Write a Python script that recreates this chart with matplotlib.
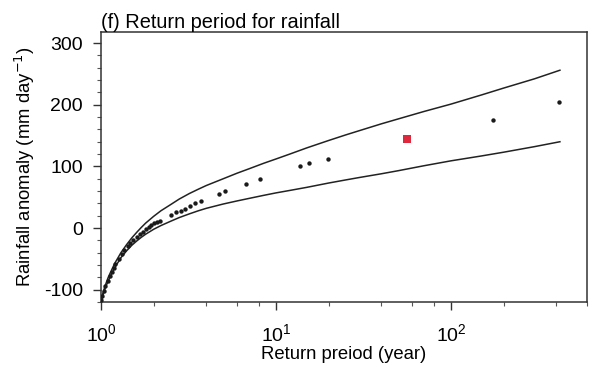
import numpy as np
import matplotlib.pyplot as plt
from matplotlib.ticker import LogLocator, MultipleLocator

plt.rcParams['font.family'] = ['Liberation Sans', 'DejaVu Sans']
plt.rcParams['axes.unicode_minus'] = False

# observed events: return period (year) and rainfall anomaly (mm/day)
obs_period = [1.003, 1.02, 1.04, 1.06, 1.09, 1.12, 1.15, 1.18, 1.21, 1.26,
              1.31, 1.36, 1.42, 1.47, 1.53, 1.60, 1.66, 1.73, 1.80, 1.87,
              1.94, 2.02, 2.10, 2.16, 2.52, 2.69, 2.85, 3.03, 3.23, 3.45,
              3.74, 4.75, 5.1, 6.7, 8.1, 13.8, 15.5, 19.8, 175, 413]
obs_anom = [-117, -110, -102, -94, -86, -78, -71, -65, -58, -50,
            -42, -36, -29, -24, -19, -15, -10, -6, -2, 2,
            5, 8, 10, 11, 21, 26, 28, 31, 35, 40,
            44, 56, 60, 72, 80, 100, 105, 112, 176, 204]

# highlighted event
event_period = [55.9]
event_anom = [144.5]

# confidence bounds of the fitted return level
band_period = [1.01, 1.03, 1.05, 1.08, 1.1, 1.15, 1.2, 1.3, 1.4, 1.5, 1.6,
               1.7, 1.8, 2.0, 2.2, 2.5, 2.8, 3.2, 3.6, 4, 5, 6, 7, 8.5, 10,
               12, 15, 20, 25, 30, 40, 50, 70, 100, 150, 200, 300, 420]
band_upper = [-112, -104, -96, -86, -80, -68, -57, -40, -27, -16, -7,
              1, 8, 19, 28, 38, 47, 56, 63, 69, 80, 89, 96, 105, 112,
              120, 130, 142, 151, 158, 169, 177, 189, 201, 216, 227, 242, 256]
band_lower = [-116, -108, -100, -91, -86, -74, -64, -48, -37, -28, -21,
              -15, -10, -2, 4, 11, 17, 23, 28, 32, 39, 44, 48, 53, 57,
              61, 66, 73, 78, 82, 88, 93, 101, 109, 117, 123, 132, 140]

fig = plt.figure(figsize=(5.92, 3.73), dpi=100)
ax = fig.add_axes([0.1706, 0.1903, 0.8210, 0.7239])

ax.plot(band_period, band_upper, color='#222222', lw=1.1)
ax.plot(band_period, band_lower, color='#222222', lw=1.1)
ax.scatter(obs_period, obs_anom, s=10, color='#1a1a1a', zorder=3, linewidths=0)
ax.scatter(event_period, event_anom, s=30, marker='s', color='#e0283c',
           zorder=4, linewidths=0)

ax.set_xscale('log')
ax.set_xlim(1, 600)
ax.set_ylim(-120, 318)
ax.xaxis.set_major_locator(LogLocator(base=10, numticks=10))
ax.xaxis.set_minor_locator(LogLocator(base=10, subs=[2, 4, 6, 8], numticks=10))
ax.yaxis.set_major_locator(MultipleLocator(100))
ax.yaxis.set_minor_locator(MultipleLocator(20))

for s in ax.spines.values():
    s.set_color('#333333')
    s.set_linewidth(1.1)
ax.tick_params(which='major', direction='out', length=6, width=1.0,
               color='#333333', labelsize=14, pad=7)
ax.tick_params(which='minor', direction='out', length=3, width=0.8,
               color='#555555')
ax.tick_params(axis='x', which='major', pad=9)

ax.set_xlabel('Return preiod (year)', fontsize=13.3, labelpad=1)
ax.set_ylabel('Rainfall anomaly (mm day$^{-1}$)', fontsize=13.3, labelpad=5)
ax.set_title('(f) Return period for rainfall', loc='left', fontsize=14.4, pad=2)

fig.savefig('out.png', dpi=100)
